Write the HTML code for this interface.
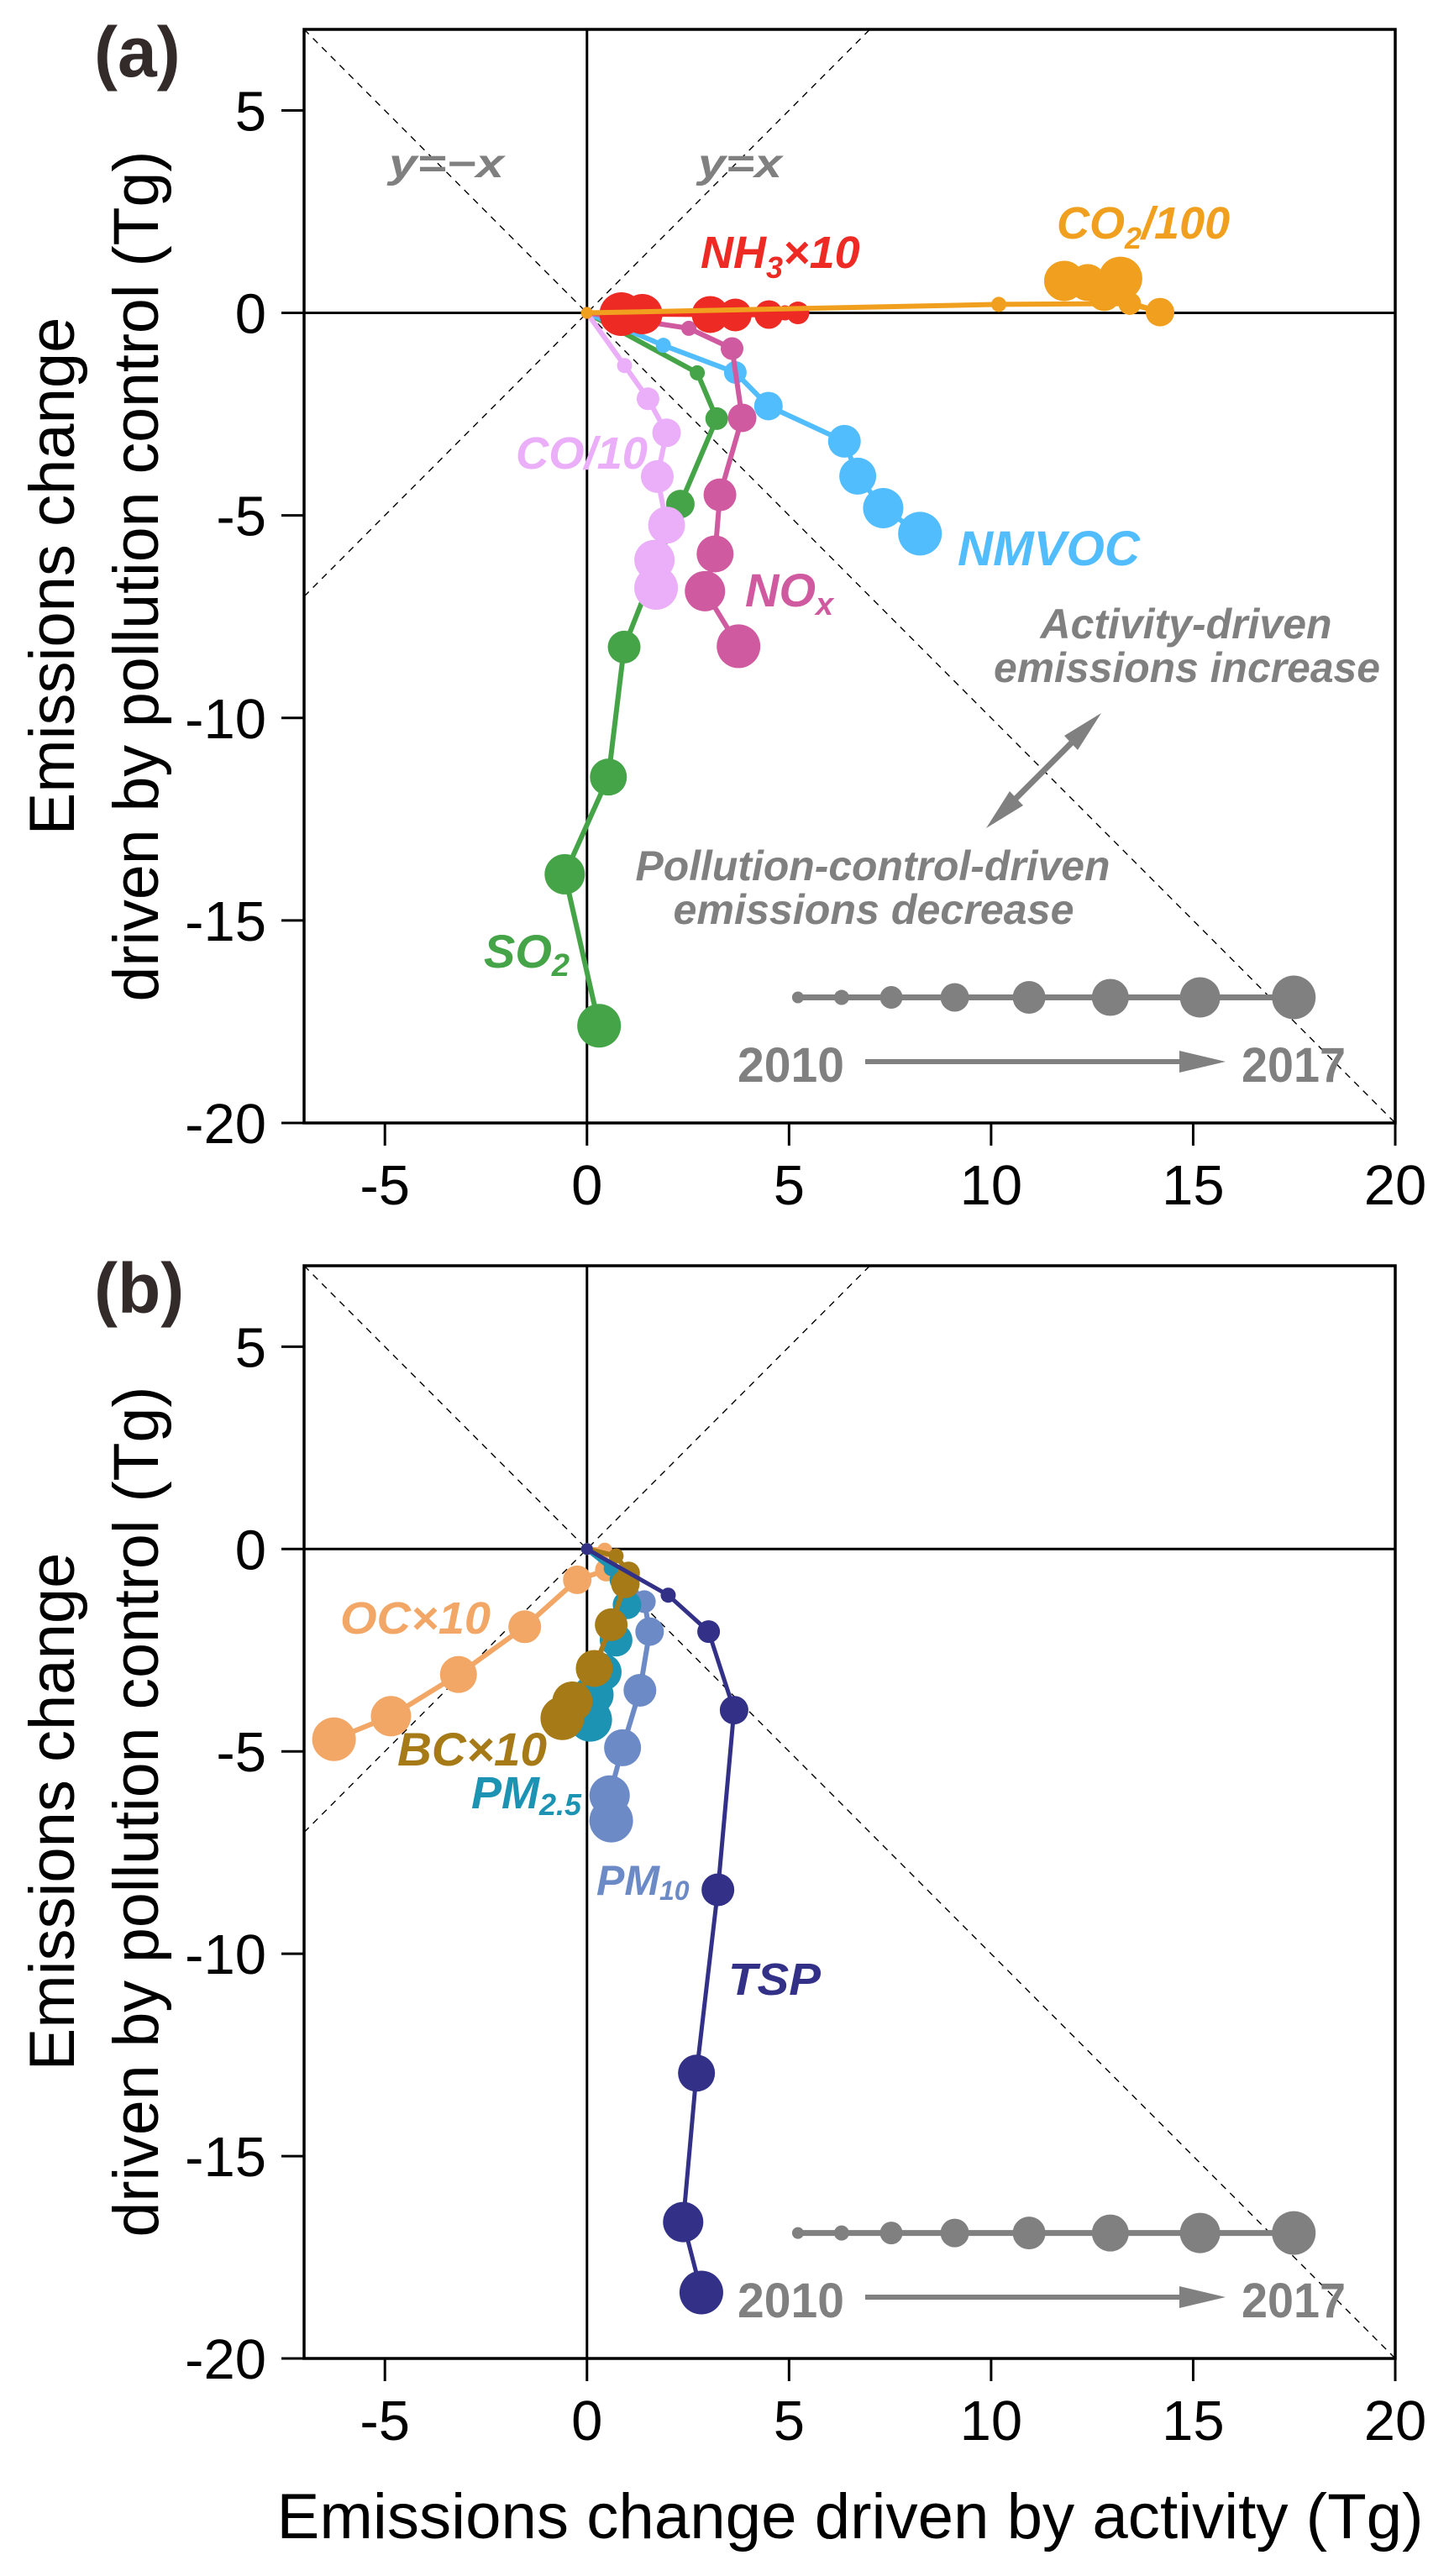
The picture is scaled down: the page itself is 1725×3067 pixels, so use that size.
<!DOCTYPE html>
<html><head><meta charset="utf-8"><style>
html,body{margin:0;padding:0;background:#fff}
svg{display:block}
text{font-family:"Liberation Sans",Arial,sans-serif}
.lab{font-weight:bold;font-style:italic}
.tick{font-size:67px;fill:#000}
</style></head><body>
<svg id="fig" width="1725" height="3067" viewBox="0 0 1725 3067" xmlns="http://www.w3.org/2000/svg">
<g id="panelA"></g>
<g id="panelB"></g>
<g id="texts">
  <text x="112" y="91" font-size="84" font-weight="bold" fill="#332a2a">(a)</text>
  <text x="112" y="1563" font-size="84" font-weight="bold" fill="#332a2a">(b)</text>
  <text transform="translate(88,686) rotate(-90)" text-anchor="middle" font-size="76">Emissions change</text>
  <text transform="translate(188,686) rotate(-90)" text-anchor="middle" font-size="76" textLength="1013" lengthAdjust="spacingAndGlyphs">driven by pollution control (Tg)</text>
  <text transform="translate(88,2157) rotate(-90)" text-anchor="middle" font-size="76">Emissions change</text>
  <text transform="translate(188,2157) rotate(-90)" text-anchor="middle" font-size="76" textLength="1013" lengthAdjust="spacingAndGlyphs">driven by pollution control (Tg)</text>
  <text x="1012" y="3022" text-anchor="middle" font-size="76" textLength="1365" lengthAdjust="spacingAndGlyphs">Emissions change driven by activity (Tg)</text>

  <text class="lab" x="463" y="211" font-size="48" fill="#808080" textLength="137" lengthAdjust="spacingAndGlyphs">y=−x</text>
  <text class="lab" x="831" y="211" font-size="48" fill="#808080" textLength="100" lengthAdjust="spacingAndGlyphs">y=x</text>
  <text class="lab" x="834" y="319" font-size="54" fill="#ee2a24">NH<tspan font-size="36" dy="12">3</tspan><tspan dy="-12">×10</tspan></text>
  <text class="lab" x="1258" y="284" font-size="54" fill="#f0a01e">CO<tspan font-size="36" dy="12">2</tspan><tspan dy="-12">/100</tspan></text>
  <text class="lab" x="614" y="558" font-size="54" fill="#ebaef8" textLength="157" lengthAdjust="spacingAndGlyphs">CO/10</text>
  <text class="lab" x="1140" y="673" font-size="58" fill="#52bdfc" textLength="217" lengthAdjust="spacingAndGlyphs">NMVOC</text>
  <text class="lab" x="887" y="722" font-size="56" fill="#d05aa0">NO<tspan font-size="38" dy="10">x</tspan></text>
  <text class="lab" x="576" y="1152" font-size="56" fill="#44a447">SO<tspan font-size="38" dy="10">2</tspan></text>
  <text class="lab" x="1412" y="760" text-anchor="middle" font-size="50" fill="#808080" textLength="347" lengthAdjust="spacingAndGlyphs">Activity-driven</text>
  <text class="lab" x="1413" y="812" text-anchor="middle" font-size="50" fill="#808080" textLength="460" lengthAdjust="spacingAndGlyphs">emissions increase</text>
  <text class="lab" x="1039" y="1048" text-anchor="middle" font-size="50" fill="#808080" textLength="565" lengthAdjust="spacingAndGlyphs">Pollution-control-driven</text>
  <text class="lab" x="1040" y="1100" text-anchor="middle" font-size="50" fill="#808080" textLength="477" lengthAdjust="spacingAndGlyphs">emissions decrease</text>

  <text class="lab" x="405" y="1945" font-size="54" fill="#f2a766" textLength="179" lengthAdjust="spacingAndGlyphs">OC×10</text>
  <text class="lab" x="473" y="2102" font-size="56" fill="#a57a17" textLength="178" lengthAdjust="spacingAndGlyphs">BC×10</text>
  <text class="lab" x="561" y="2153" font-size="54" fill="#1d93b4">PM<tspan font-size="36" dy="8">2.5</tspan></text>
  <text class="lab" x="710" y="2256" font-size="50" fill="#6b8ac6">PM<tspan font-size="32" dy="6">10</tspan></text>
  <text class="lab" x="867" y="2375" font-size="54" fill="#323087" textLength="110" lengthAdjust="spacingAndGlyphs">TSP</text>
</g>
</svg>
<script>
// ---- shared data ----
const yearRadius = [7, 9, 13.5, 17, 19.5, 22, 24, 26];
const legendX = [5.22, 6.3, 7.53, 9.1, 10.94, 12.95, 15.17, 17.49];
const legendY = -16.9;
const xTicks = [-5, 0, 5, 10, 15, 20];
const yTicks = [5, 0, -5, -10, -15, -20];

// ---- panel (a) series: 2010..2017 ----
const so2X = [0, 2.73, 3.21, 2.31, 0.92, 0.53, -0.55, 0.30];
const so2Y = [0, -1.48, -2.61, -4.72, -8.25, -11.46, -13.86, -17.6];
const nmvocX = [0, 1.89, 3.67, 4.49, 6.37, 6.70, 7.33, 8.24];
const nmvocY = [0, -0.80, -1.47, -2.30, -3.17, -4.03, -4.82, -5.45];
const noxX = [0, 2.52, 3.59, 3.84, 3.29, 3.17, 2.92, 3.75];
const noxY = [0, -0.38, -0.88, -2.59, -4.49, -5.95, -6.87, -8.23];
const coX = [0, 0.93, 1.51, 1.97, 1.74, 1.97, 1.67, 1.71];
const coY = [0, -1.30, -2.12, -2.96, -4.04, -5.24, -6.10, -6.79];
const nh3X = [0, 4.9, 5.22, 4.5, 3.67, 3.05, 1.37, 0.85];
const nh3Y = [0, 0, 0.0, -0.04, -0.05, -0.04, -0.03, -0.03];
const co2X = [0, 10.19, 13.43, 14.18, 12.8, 12.39, 11.81, 13.2];
const co2Y = [0, 0.21, 0.23, 0.02, 0.45, 0.75, 0.79, 0.85];

// ---- panel (b) series ----
const ocX = [0, 0.44, 0.48, -0.24, -1.54, -3.18, -4.85, -6.26];
const ocY = [0, -0.03, -0.52, -0.76, -1.92, -3.10, -4.13, -4.70];
const pm10X = [0, 0.91, 1.42, 1.55, 1.31, 0.88, 0.56, 0.60];
const pm10Y = [0, -0.69, -1.30, -2.04, -3.49, -4.91, -6.09, -6.71];
const pm25X = [0, 0.60, 0.84, 0.99, 0.72, 0.40, 0.16, 0.08];
const pm25Y = [0, -0.48, -0.76, -1.38, -2.25, -3.04, -3.60, -4.22];
const bcX = [0, 0.72, 1.03, 0.95, 0.60, 0.18, -0.36, -0.61];
const bcY = [0, -0.17, -0.59, -0.86, -1.87, -2.95, -3.77, -4.18];
const tspX = [0, 2.01, 3.01, 3.64, 3.24, 2.71, 2.38, 2.83];
const tspY = [0, -1.14, -2.04, -3.98, -8.42, -12.95, -16.63, -18.37];

const NS = 'http://www.w3.org/2000/svg';
const XMIN = -7, XMAX = 20, YMIN = -20, YMAX = 7;
const PX0 = 362, PX1 = 1661;
function sx(v){ return PX0 + (v - XMIN) / (XMAX - XMIN) * (PX1 - PX0); }
function makeSy(top, bottom){ return v => top + (YMAX - v) / (YMAX - YMIN) * (bottom - top); }
function el(tag, attrs, parent){
  const e = document.createElementNS(NS, tag);
  for (const k in attrs) e.setAttribute(k, attrs[k]);
  parent.appendChild(e);
  return e;
}

function drawPanel(g, top, bottom, series){
  const sy = makeSy(top, bottom);
  const d1 = el('line', {x1: sx(-7), y1: sy(-7), x2: sx(7), y2: sy(7), stroke: '#000', 'stroke-width': 1.4, 'stroke-dasharray': '8,7'}, g);
  
  
  const d2 = el('line', {x1: sx(-7), y1: sy(7), x2: sx(20), y2: sy(-20), stroke: '#000', 'stroke-width': 1.4, 'stroke-dasharray': '8,7'}, g);
  
  
  const z1 = el('line', {x1: sx(XMIN), y1: sy(0), x2: sx(XMAX), y2: sy(0), stroke: '#000', 'stroke-width': 3}, g);
  
  
  const z2 = el('line', {x1: sx(0), y1: sy(YMAX), x2: sx(0), y2: sy(YMIN), stroke: '#000', 'stroke-width': 3}, g);
  
  
  const fr = el('rect', {x: sx(XMIN), y: sy(YMAX), width: sx(XMAX) - sx(XMIN), height: sy(YMIN) - sy(YMAX), fill: 'none', stroke: '#000', 'stroke-width': 3.5}, g);
  
  
  xTicks.forEach(t => {
    const ln = el('line', {x1: sx(t), y1: bottom, x2: sx(t), y2: bottom + 27, stroke: '#000', 'stroke-width': 3}, g);
    
    
    const tx = el('text', {x: sx(t), y: bottom + 97, 'text-anchor': 'middle', class: 'tick'}, g);
    tx.textContent = String(t);
    
    
  });
  yTicks.forEach(t => {
    const ln = el('line', {x1: PX0 - 27, y1: sy(t), x2: PX0, y2: sy(t), stroke: '#000', 'stroke-width': 3}, g);
    
    
    const tx = el('text', {x: 317, y: sy(t) + 24, 'text-anchor': 'end', class: 'tick'}, g);
    tx.textContent = String(t);
    
    
  });
  series.forEach(s => {
    const sg = el('g', {}, g);
    
    
    const pts = s.xs.map((v, i) => sx(v) + ',' + sy(s.ys[i])).join(' ');
    const pl = el('polyline', {points: pts, fill: 'none', stroke: s.color, 'stroke-width': s.lw || 6, 'stroke-linejoin': 'round'}, sg);
    
    
    s.xs.forEach((v, i) => {
      const c = el('circle', {cx: sx(v), cy: sy(s.ys[i]), r: yearRadius[Math.min(i, yearRadius.length - 1)], fill: s.color}, sg);
      
      
    });
  });
  const lg = el('g', {}, g);
  
  
  const ll = el('line', {x1: sx(legendX[0]), y1: sy(legendY), x2: sx(legendX[legendX.length - 1]), y2: sy(legendY), stroke: '#808080', 'stroke-width': 7}, lg);
  
  
  legendX.forEach((v, i) => {
    const c = el('circle', {cx: sx(v), cy: sy(legendY), r: yearRadius[i], fill: '#808080'}, lg);
    
    
  });
  const ty = bottom - 49;
  const t1 = el('text', {x: 878, y: ty, 'font-size': 58, 'font-weight': 'bold', fill: '#808080', textLength: 127, lengthAdjust: 'spacingAndGlyphs'}, lg);
  t1.textContent = '2010';
  
  
  const t2 = el('text', {x: 1478, y: ty, 'font-size': 58, 'font-weight': 'bold', fill: '#808080', textLength: 124, lengthAdjust: 'spacingAndGlyphs'}, lg);
  t2.textContent = '2017';
  
  
  const ay = bottom - 73;
  const al = el('line', {x1: 1030, y1: ay, x2: 1408, y2: ay, stroke: '#808080', 'stroke-width': 6}, lg);
  
  
  const ah = el('polygon', {points: '1404,' + (ay - 13) + ' 1459,' + ay + ' 1404,' + (ay + 13), fill: '#808080'}, lg);
  
  
}

drawPanel(document.getElementById('panelA'), 35, 1337, [
  {name: 'so2', xs: so2X, ys: so2Y, color: '#44a447'},
  {name: 'nmvoc', xs: nmvocX, ys: nmvocY, color: '#52bdfc'},
  {name: 'nox', xs: noxX, ys: noxY, color: '#d05aa0'},
  {name: 'co', xs: coX, ys: coY, color: '#ebaef8'},
  {name: 'nh3', xs: nh3X, ys: nh3Y, color: '#ee2a24'},
  {name: 'co2', xs: co2X, ys: co2Y, color: '#f0a01e'}
]);

drawPanel(document.getElementById('panelB'), 1507, 2808, [
  {name: 'oc', xs: ocX, ys: ocY, color: '#f2a766'},
  {name: 'pm10', xs: pm10X, ys: pm10Y, color: '#6b8ac6'},
  {name: 'pm25', xs: pm25X, ys: pm25Y, color: '#1d93b4'},
  {name: 'bc', xs: bcX, ys: bcY, color: '#a57a17'},
  {name: 'tsp', xs: tspX, ys: tspY, color: '#323087', lw: 5}
]);

const ga = document.getElementById('panelA');
const arr = el('g', {}, ga);


const shaft = el('line', {x1: 1195, y1: 965, x2: 1290, y2: 870, stroke: '#808080', 'stroke-width': 7}, arr);


const h1 = el('polygon', {points: '1311,849 1283,893 1267,876', fill: '#808080'}, arr);


const h2 = el('polygon', {points: '1174,986 1202,942 1218,959', fill: '#808080'}, arr);


</script>
</body></html>
